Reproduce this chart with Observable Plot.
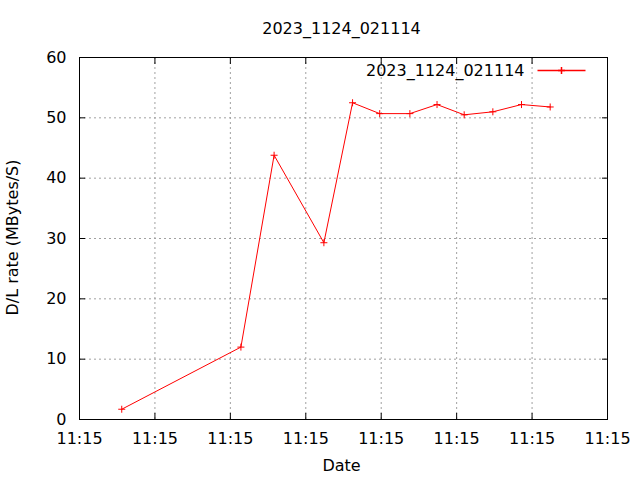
<!DOCTYPE html>
<html><head><meta charset="utf-8">
<script src="https://cdn.jsdelivr.net/npm/d3@7"></script>
<script src="https://cdn.jsdelivr.net/npm/@observablehq/plot@0.6"></script>
<style>body{margin:0;background:#fff}</style>
</head><body><div id="chart"></div>
<script>
const title = "2023_1124_021114";
const seriesName = "2023_1124_021114";
const xLabel = "Date";
const yLabel = "D/L rate (MBytes/S)";
const baseTime = "2023-11-24T11:15:00Z";
const timeOffsetsSec = [2.8, 10.7, 12.9, 16.2, 18.1, 19.9, 21.9, 23.7, 25.5, 27.4, 29.3, 31.2];
const rates = [1.7, 12.0, 43.8, 29.3, 52.5, 50.7, 50.7, 52.2, 50.5, 51.0, 52.2, 51.8];
const xTickOffsetsSec = [0, 5, 10, 15, 20, 25, 30, 35];
const yTicks = [0, 10, 20, 30, 40, 50, 60];

const t0 = new Date(baseTime).getTime();
const toDate = s => new Date(t0 + s * 1000);
const data = timeOffsetsSec.map((s, i) => ({t: toDate(s), v: rates[i]}));
const xTicks = xTickOffsetsSec.map(toDate);
const fmt = d3.utcFormat("%H:%M");
const red = "#ff0000";
const gridStyle = {stroke: "#a0a0a0", strokeOpacity: 1, strokeDasharray: "2,3", strokeWidth: 1};

const plus = {draw(ctx, size) {
  const r = Math.sqrt(size / Math.PI);
  ctx.moveTo(-r, 0); ctx.lineTo(r, 0);
  ctx.moveTo(0, -r); ctx.lineTo(0, r);
}};
const legendLine = {draw(ctx, size) {
  ctx.moveTo(-24, 0); ctx.lineTo(24, 0);
}};

const chart = Plot.plot({
  width: 640, height: 480,
  marginLeft: 79, marginRight: 33, marginTop: 57, marginBottom: 61,
  style: {fontFamily: "'DejaVu Sans', sans-serif", fontSize: "16px", color: "#000", background: "#fff"},
  x: {type: "utc", domain: [xTicks[0], xTicks[xTicks.length - 1]]},
  y: {domain: [yTicks[0], yTicks[yTicks.length - 1]]},
  marks: [
    Plot.gridX(xTicks, gridStyle),
    Plot.gridY(yTicks, gridStyle),
    Plot.frame({stroke: "#000", strokeWidth: 1}),
    Plot.axisX(xTicks, {anchor: "bottom", tickSize: -6, tickPadding: 19, tickFormat: fmt, label: null}),
    Plot.axisX(xTicks, {anchor: "top", tickSize: -6, tickFormat: () => "", label: null}),
    Plot.axisY(yTicks, {anchor: "left", tickSize: -6, tickPadding: 19, label: null}),
    Plot.axisY(yTicks, {anchor: "right", tickSize: -6, tickFormat: () => "", label: null}),
    Plot.line(data, {x: "t", y: "v", stroke: red, strokeWidth: 1}),
    Plot.dot(data, {x: "t", y: "v", symbol: plus, r: 3.5, stroke: red, fill: "none", strokeWidth: 1}),
    Plot.text([title], {text: d => d, frameAnchor: "top", lineAnchor: "top", dy: -35, dx: -2}),
    Plot.text([xLabel], {text: d => d, frameAnchor: "bottom", lineAnchor: "top", dy: 40, dx: -2}),
    Plot.text([yLabel], {text: d => d, frameAnchor: "left", textAnchor: "middle", lineAnchor: "middle", rotate: -90, dx: -67, dy: -1}),
    Plot.text([seriesName], {text: d => d, frameAnchor: "top-right", textAnchor: "end", lineAnchor: "middle", dx: -83, dy: 13}),
    Plot.dot([seriesName], {frameAnchor: "top-right", symbol: legendLine, r: 3.5, stroke: red, fill: "none", dx: -46, dy: 13}),
    Plot.dot([seriesName], {frameAnchor: "top-right", symbol: plus, r: 3.5, stroke: red, fill: "none", dx: -46, dy: 13})
  ]
});
document.getElementById("chart").appendChild(chart);
</script>
</body></html>
